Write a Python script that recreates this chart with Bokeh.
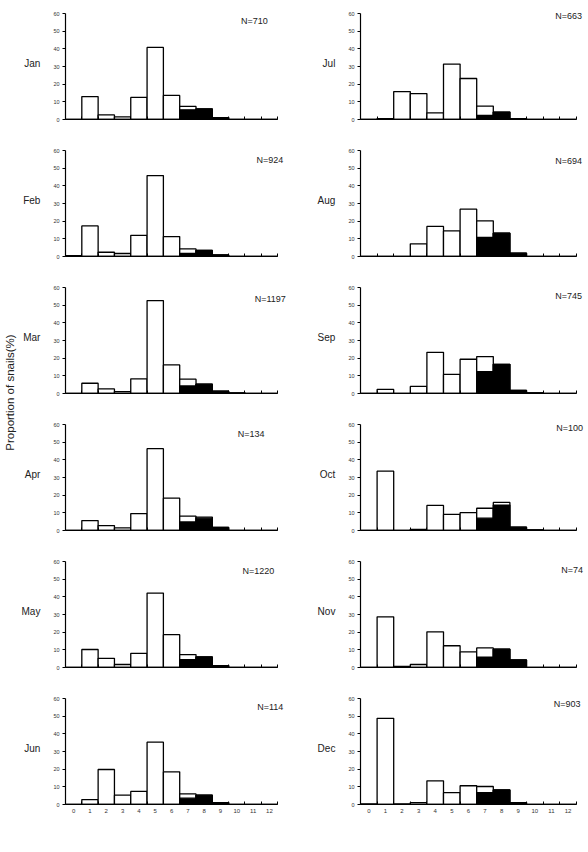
import math
from bokeh.plotting import figure
from bokeh.layouts import row, column
from bokeh.models import Range1d, FixedTicker, Label
from bokeh.embed import file_html
from bokeh.resources import INLINE

# ---------------- data ----------------
size_classes = list(range(13))
tick_labels = [str(i) for i in size_classes]
y_ticks = [0, 10, 20, 30, 40, 50, 60]

months = ["Jan", "Feb", "Mar", "Apr", "May", "Jun",
          "Jul", "Aug", "Sep", "Oct", "Nov", "Dec"]
n_labels = ["N=710", "N=924", "N=1197", "N=134", "N=1220", "N=114",
            "N=663", "N=694", "N=745", "N=100", "N=74", "N=903"]

# total proportion (%) per size class (white bar height) and black portion
jan_total = [0, 13.0, 2.6, 1.5, 12.5, 40.8, 13.6, 7.4, 6.0, 1.1, 0, 0, 0]
jan_black = [0, 0, 0, 0, 0, 0, 0, 5.5, 6.0, 1.1, 0, 0, 0]
feb_total = [0.5, 17.3, 2.4, 1.7, 12.0, 45.8, 11.3, 4.3, 3.4, 0.9, 0, 0, 0]
feb_black = [0, 0, 0, 0, 0, 0, 0, 1.7, 3.4, 0.9, 0, 0, 0]
mar_total = [0, 5.8, 2.6, 1.1, 8.3, 52.6, 16.2, 8.1, 5.3, 1.3, 0.3, 0, 0]
mar_black = [0, 0, 0, 0, 0, 0, 0, 4.3, 5.3, 1.3, 0.3, 0, 0]
apr_total = [0, 5.6, 2.8, 1.5, 9.6, 46.3, 18.3, 8.1, 7.6, 1.7, 0, 0, 0]
apr_black = [0, 0, 0, 0, 0, 0, 0, 4.8, 7.0, 1.7, 0, 0, 0]
may_total = [0, 10.2, 5.2, 1.7, 8.0, 42.1, 18.6, 7.3, 6.0, 1.1, 0, 0, 0]
may_black = [0, 0, 0, 0, 0, 0, 0, 4.5, 6.0, 1.1, 0, 0, 0]
jun_total = [0, 2.8, 19.8, 5.3, 7.4, 35.3, 18.5, 6.0, 5.3, 1.1, 0, 0, 0]
jun_black = [0, 0, 0, 0, 0, 0, 0, 3.6, 5.3, 1.1, 0, 0, 0]
jul_total = [0, 0.5, 15.8, 14.7, 3.8, 31.4, 23.2, 7.6, 4.2, 0.5, 0, 0, 0]
jul_black = [0, 0, 0, 0, 0, 0, 0, 2.3, 4.2, 0.5, 0, 0, 0]
aug_total = [0, 0, 0, 7.2, 17.0, 14.5, 26.8, 20.2, 13.2, 1.9, 0, 0, 0]
aug_black = [0, 0, 0, 0, 0, 0, 0, 10.8, 13.2, 1.9, 0, 0, 0]
sep_total = [0, 2.3, 0, 4.0, 23.3, 10.8, 19.4, 20.9, 16.5, 1.7, 0.4, 0, 0]
sep_black = [0, 0, 0, 0, 0, 0, 0, 12.3, 16.5, 1.7, 0.4, 0, 0]
oct_total = [0, 33.6, 0, 0.6, 14.2, 9.1, 10.1, 12.6, 15.9, 1.9, 0.4, 0, 0]
oct_black = [0, 0, 0, 0, 0, 0, 0, 7.0, 14.4, 1.9, 0.4, 0, 0]
nov_total = [0, 28.7, 0.6, 1.7, 20.2, 12.3, 8.9, 11.1, 10.4, 4.3, 0, 0, 0]
nov_black = [0, 0, 0, 0, 0, 0, 0, 5.8, 10.4, 4.3, 0, 0, 0]
dec_total = [0.4, 48.8, 0.4, 1.1, 13.4, 6.7, 10.6, 10.2, 8.2, 1.1, 0, 0, 0]
dec_black = [0, 0, 0, 0, 0, 0, 0, 6.7, 8.2, 1.1, 0, 0, 0]

totals = [jan_total, feb_total, mar_total, apr_total, may_total, jun_total,
          jul_total, aug_total, sep_total, oct_total, nov_total, dec_total]
blacks = [jan_black, feb_black, mar_black, apr_black, may_black, jun_black,
          jul_black, aug_black, sep_black, oct_black, nov_black, dec_black]

# N label placement (data coords of right edge / middle)
n_pos = [(11.9, 56), (12.85, 54.5), (13.0, 53.7), (11.7, 54.4), (12.3, 54.4), (12.85, 55.4),
         (12.85, 58.5), (12.85, 54.3), (12.85, 55.4), (12.9, 58.1), (12.9, 55.4), (12.75, 56.7)]

FONT = "Liberation Sans"
PX_X = 16.6          # pixels per size class
PX_Y = 106 / 60.0    # pixels per percent
TOP_PAD = 7          # extra pixels above the 60 tick (for labels)


def make_panel(i, left_col, bottom):
    h = 167 if bottom else 137
    if left_col:
        w, bl = 276, 43
    else:
        w, bl = 294, 66
    x_end = -0.5 + (w - bl) / PX_X
    y_end = 60 + TOP_PAD / PX_Y
    p = figure(width=w, height=h, output_backend="svg", toolbar_location=None,
               x_range=Range1d(-0.5, x_end), y_range=Range1d(0, y_end),
               min_border_left=bl, min_border_right=0,
               min_border_top=13 - TOP_PAD, min_border_bottom=48 if bottom else 18)
    p.outline_line_color = None
    p.grid.visible = False
    p.background_fill_color = "white"
    p.border_fill_color = "white"

    p.vbar(x=size_classes, top=totals[i], width=1, bottom=0,
           fill_color="white", line_color="black", line_width=1.3)
    p.vbar(x=size_classes, top=blacks[i], width=1, bottom=0,
           fill_color="black", line_color="black", line_width=1.3)

    # x axis
    xa = p.xaxis[0]
    xa.bounds = (-0.5, 12.5)
    xa.ticker = FixedTicker(ticks=size_classes if bottom else [],
                            minor_ticks=[c - 0.5 for c in size_classes] + [12.5])
    if bottom:
        xa.major_label_overrides = {c: t for c, t in zip(size_classes, tick_labels)}
    xa.major_tick_in = 0
    xa.major_tick_out = 0
    xa.minor_tick_in = 3
    xa.minor_tick_out = 0
    xa.minor_tick_line_color = "black"
    xa.axis_line_color = "black"
    xa.axis_line_width = 1.2
    xa.major_label_text_font = FONT
    xa.major_label_text_font_size = "6px"
    xa.major_label_text_color = "#333333"
    xa.major_label_standoff = 4

    # y axis
    ya = p.yaxis[0]
    ya.bounds = (0, 60)
    ya.ticker = FixedTicker(ticks=y_ticks, minor_ticks=[])
    ya.major_tick_in = 0
    ya.major_tick_out = 3
    ya.major_tick_line_color = "black"
    ya.axis_line_color = "black"
    ya.axis_line_width = 1.2
    ya.major_label_text_font = FONT
    ya.major_label_text_font_size = "5.5px"
    ya.major_label_text_color = "#333333"
    ya.major_label_standoff = 3
    ya.axis_label = months[i]
    ya.axis_label_orientation = "horizontal"
    ya.axis_label_text_font = FONT
    ya.axis_label_text_font_size = "10px"
    ya.axis_label_text_font_style = "normal"
    ya.axis_label_text_color = "#222222"
    ya.axis_label_standoff = 10

    nx, ny = n_pos[i]
    p.add_layout(Label(x=nx, y=ny, text=n_labels[i], text_align="right",
                       text_baseline="middle", text_font=FONT,
                       text_font_size="9px", text_color="#222222"))
    return p


left = column([make_panel(i, True, i == 5) for i in range(6)], spacing=0)
right = column([make_panel(i + 6, False, i == 5) for i in range(6)], spacing=0)

lab = figure(width=18, height=852, output_backend="svg", toolbar_location=None,
             x_range=Range1d(0, 18), y_range=Range1d(0, 852),
             min_border=0, min_border_left=0, min_border_right=0,
             min_border_top=0, min_border_bottom=0)
lab.axis.visible = False
lab.grid.visible = False
lab.outline_line_color = None
lab.add_layout(Label(x=9, y=852 - 392, text="Proportion of snails(%)",
                     angle=math.pi / 2, text_align="center", text_baseline="middle",
                     text_font=FONT, text_font_size="11.5px", text_color="#222222"))

layout = row([lab, left, right], spacing=0)

open("out.html", "w").write(file_html(layout, INLINE))
